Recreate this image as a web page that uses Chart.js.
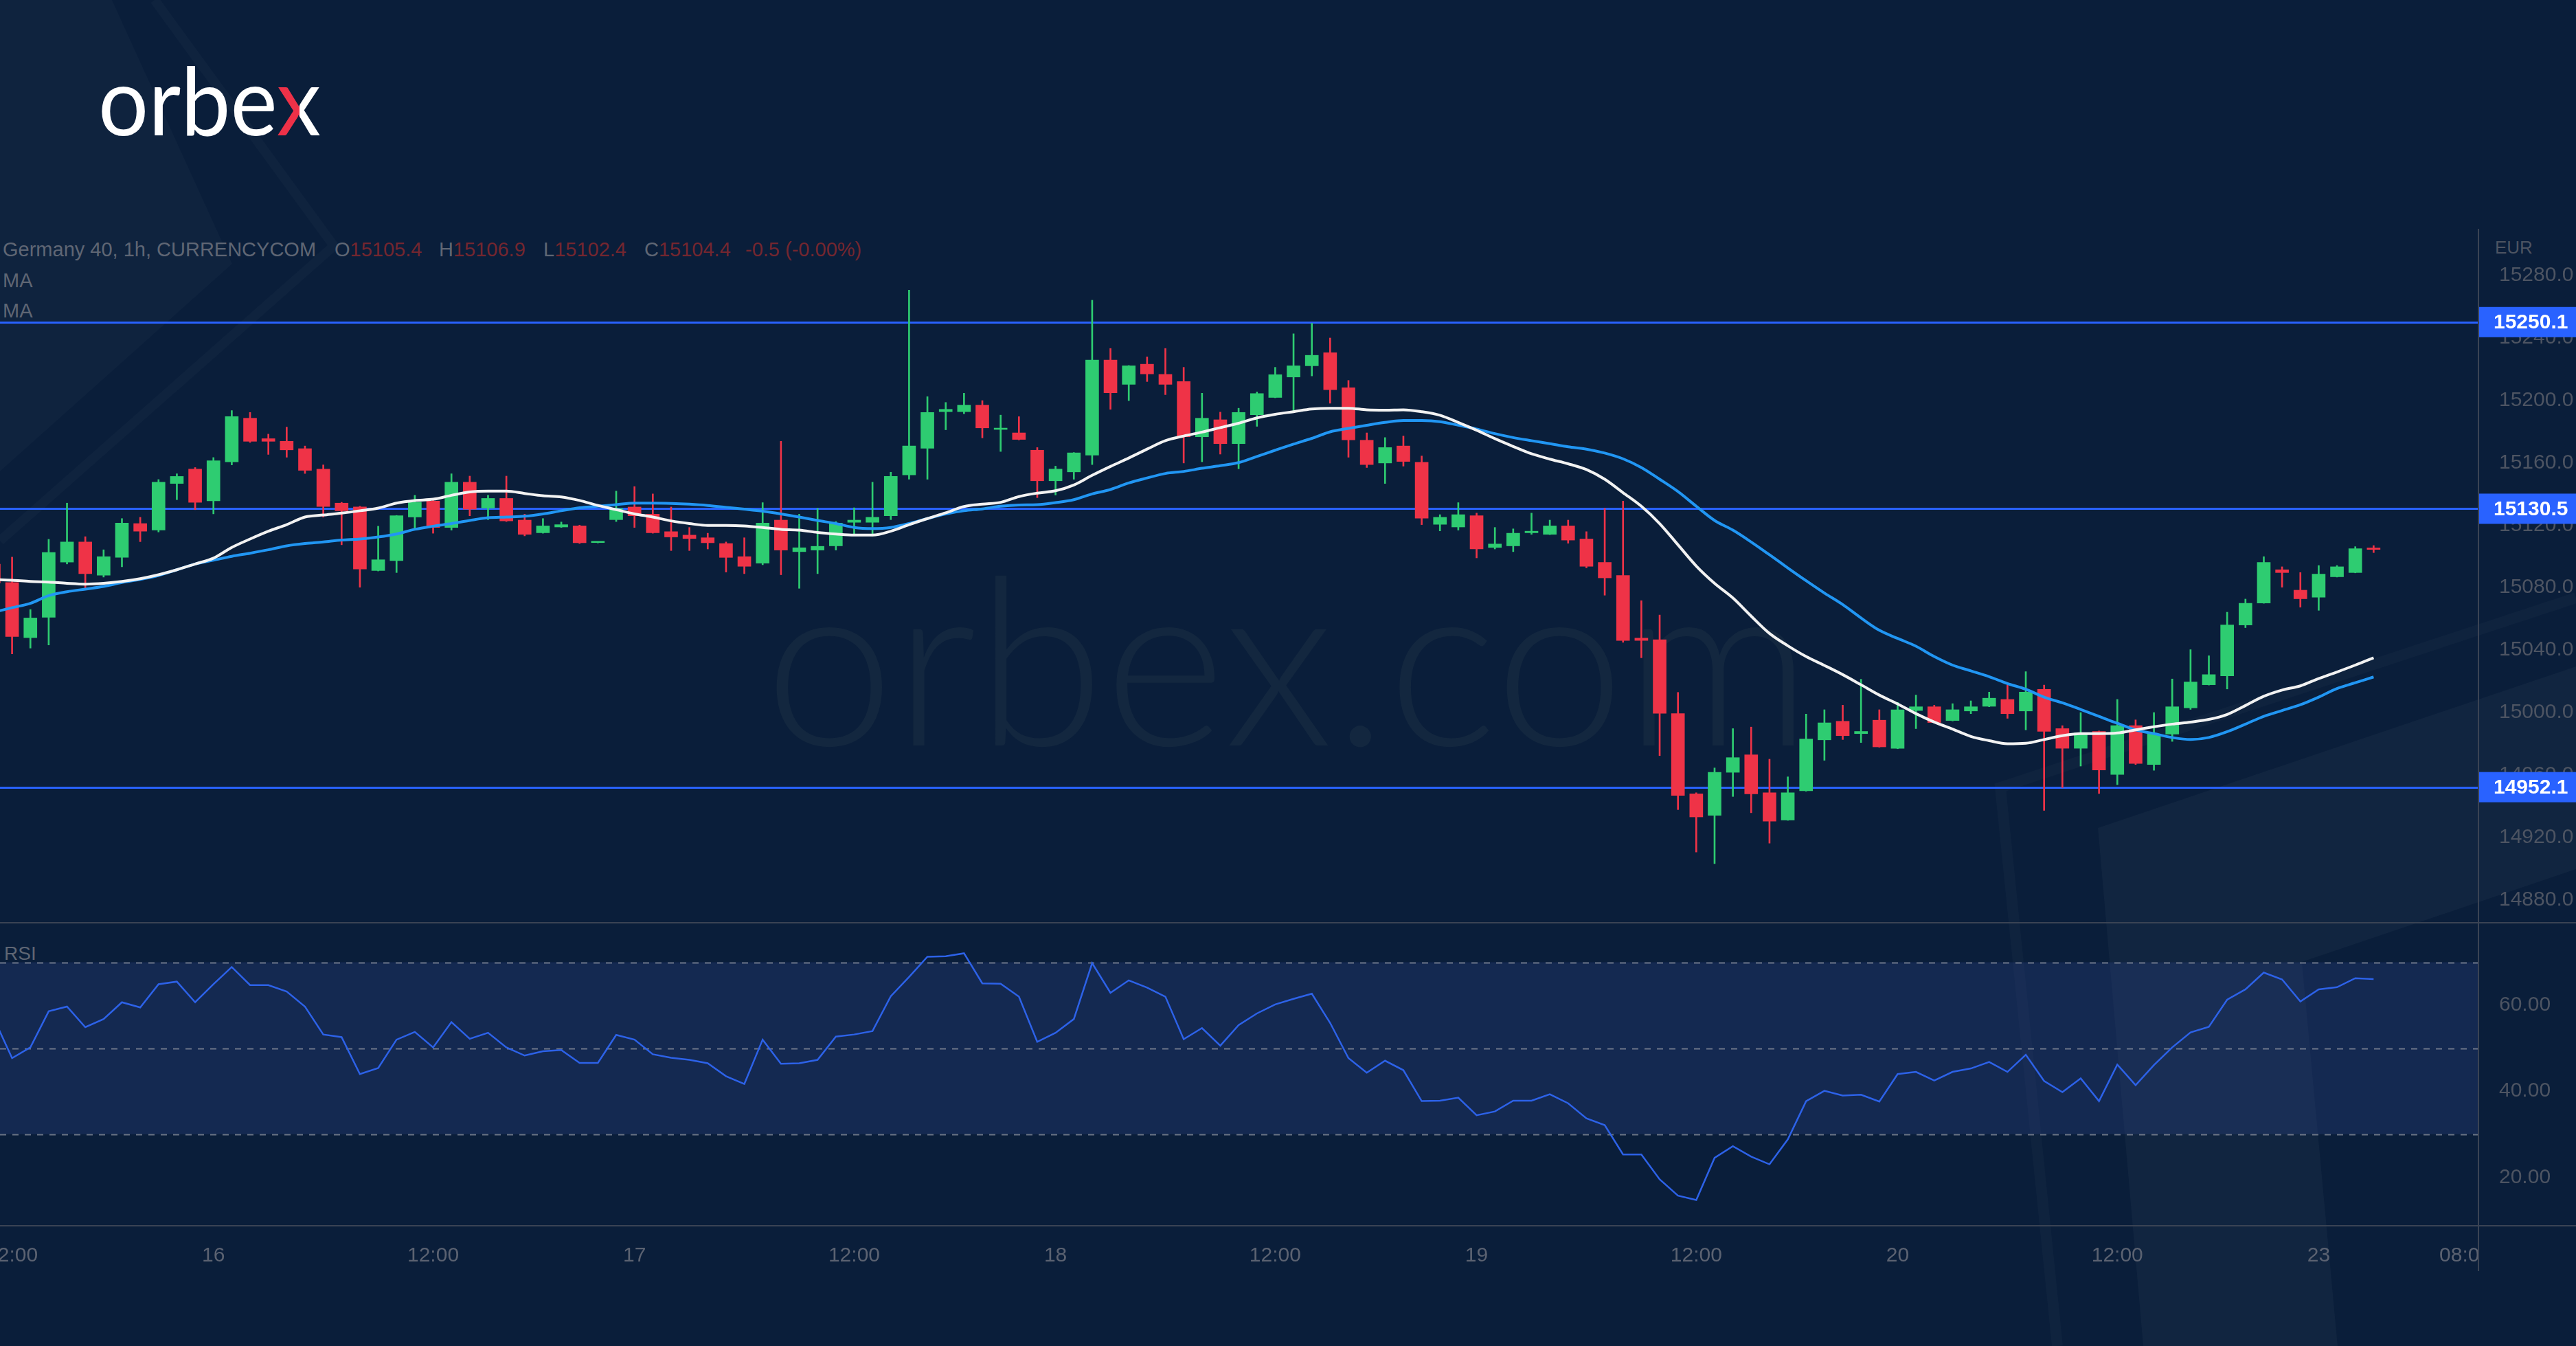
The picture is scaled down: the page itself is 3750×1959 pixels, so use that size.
<!DOCTYPE html>
<html>
<head>
<meta charset="utf-8">
<title>Germany 40, 1h</title>
<script src="https://cdn.jsdelivr.net/npm/chart.js@4.4.1/dist/chart.umd.min.js"></script>
<style>
  html, body { margin: 0; padding: 0; }
  body {
    width: 3750px; height: 1959px; overflow: hidden; position: relative;
    background: #0a1e3a;
  }
  #backdrop { position: absolute; left: 0; top: 0; }
  #chart { position: absolute; left: 0; top: 0; }
</style>
</head>
<body>

<!-- background shapes, watermark, logo and legend text -->
<svg id="backdrop" width="3750" height="1959" xmlns="http://www.w3.org/2000/svg">
  <defs>
    <linearGradient id="xSplit" gradientUnits="userSpaceOnUse" x1="405" y1="0" x2="467" y2="0">
      <stop offset="0.5" stop-color="#ee3148"/>
      <stop offset="0.5" stop-color="#ffffff"/>
    </linearGradient>
  </defs>
  <polygon points="0,0 163,0 338,384 0,686" fill="rgba(255,255,255,0.025)"/>
  <polyline points="225,0 486,358 0,787" fill="none" stroke="rgba(255,255,255,0.025)" stroke-width="14"/>
  <polygon points="3054,1205 3750,970 3750,1265 3351,1400 3403,1959 3120,1959" fill="rgba(255,255,255,0.03)"/>
  <polyline points="3750,870 2912,1146 2995,1959" fill="none" stroke="rgba(255,255,255,0.025)" stroke-width="16"/>

  <text x="1113" y="1085" font-family="Lato" font-weight="300" font-size="340"
        textLength="1524" lengthAdjust="spacingAndGlyphs" fill="#13273f">orbex.com</text>

  <text x="143" y="197" font-family="Lato" font-weight="400" font-size="138"
        textLength="324" lengthAdjust="spacingAndGlyphs" fill="#ffffff">orbe<tspan fill="url(#xSplit)">x</tspan></text>

  <g font-family="Liberation Sans" font-size="29" fill="#5f6674">
    <text id="legendLine" y="373"></text>
    <text x="4" y="418">MA</text>
    <text x="4" y="462">MA</text>
    <text x="6" y="1397" font-size="28">RSI</text>
  </g>
  <text x="3632" y="369" font-family="Liberation Sans" font-size="26" fill="#4d5462">EUR</text>
</svg>

<canvas id="chart" width="3750" height="1959"></canvas>

<script>
// Germany 40 (CURRENCYCOM), 1h candles, first bar index -1 (partly off screen)
const firstIndex = -1;

const open = [
  15095.0, 15083.2, 15047.9, 15060.9, 15096.3, 15109.2, 15087.9, 15099.3, 15121.0, 15116.8,
  15146.7, 15155.9, 15135.6, 15160.6, 15188.5, 15175.4, 15173.7, 15169.0, 15155.9, 15134.1,
  15131.6, 15090.9, 15097.3, 15125.2, 15135.4, 15118.5, 15147.5, 15130.9, 15137.1, 15123.2,
  15115.1, 15118.8, 15119.5, 15108.8, 15123.5, 15131.6, 15127.0, 15115.8, 15113.6, 15111.9,
  15108.2, 15099.8, 15095.6, 15123.2, 15103.0, 15104.0, 15106.7, 15121.8, 15121.8, 15126.0,
  15152.2, 15169.2, 15192.7, 15192.7, 15196.9, 15181.3, 15179.1, 15168.0, 15148.4, 15154.1,
  15164.8, 15225.8, 15210.2, 15223.1, 15216.6, 15212.0, 15176.6, 15187.5, 15172.2, 15190.7,
  15201.8, 15214.9, 15222.1, 15230.5, 15208.0, 15174.4, 15159.8, 15170.7, 15160.3, 15120.5,
  15118.8, 15126.0, 15105.7, 15106.7, 15115.1, 15114.1, 15119.5, 15111.1, 15096.1, 15087.7,
  15047.6, 15046.6, 14999.2, 14947.8, 14934.0, 14961.6, 14972.8, 14948.5, 14931.0, 14949.8,
  14982.4, 14994.3, 14986.4, 14995.0, 14977.0, 15001.2, 15003.6, 14994.8, 15000.9, 15003.9,
  15008.3, 15000.9, 15014.8, 14989.6, 14977.0, 14987.8, 14960.2, 14991.5, 14966.6, 14986.1,
  15002.9, 15017.7, 15023.4, 15056.0, 15070.1, 15091.4, 15078.3, 15073.8, 15086.9, 15089.6,
  15105.4
];

const high = [
  15099.0, 15099.5, 15065.9, 15110.9, 15134.1, 15112.6, 15104.2, 15124.2, 15125.0, 15149.2,
  15152.9, 15156.9, 15163.3, 15193.4, 15192.2, 15178.3, 15182.8, 15170.7, 15158.6, 15134.6,
  15132.1, 15119.3, 15126.2, 15139.1, 15136.3, 15152.9, 15151.4, 15139.1, 15151.4, 15127.0,
  15124.2, 15122.0, 15120.0, 15109.2, 15141.8, 15144.7, 15140.0, 15131.6, 15118.5, 15114.8,
  15109.2, 15111.9, 15134.4, 15173.7, 15127.0, 15130.7, 15122.3, 15131.1, 15147.5, 15153.9,
  15270.5, 15202.3, 15198.6, 15204.5, 15199.8, 15190.5, 15189.5, 15169.7, 15157.8, 15166.5,
  15264.1, 15233.2, 15222.3, 15227.8, 15233.2, 15221.1, 15204.5, 15192.4, 15194.9, 15205.3,
  15221.1, 15242.6, 15249.3, 15239.9, 15212.7, 15179.1, 15176.1, 15177.1, 15164.3, 15126.7,
  15134.4, 15127.7, 15118.5, 15117.6, 15127.7, 15123.2, 15123.2, 15115.8, 15130.7, 15135.4,
  15071.6, 15062.4, 15012.8, 14948.5, 14964.4, 14989.6, 14990.6, 14970.0, 14958.7, 14998.9,
  15001.7, 15004.6, 15021.2, 15001.7, 15006.4, 15011.1, 15004.6, 15005.6, 15007.4, 15013.0,
  15017.5, 15026.1, 15017.5, 14991.5, 14999.9, 14988.1, 15008.3, 14995.2, 14999.9, 15021.4,
  15040.2, 15036.3, 15064.2, 15072.6, 15099.8, 15093.3, 15089.6, 15094.1, 15094.1, 15106.2,
  15106.9
];

const low = [
  15078.0, 15037.5, 15041.2, 15043.2, 15095.1, 15079.0, 15086.7, 15093.3, 15109.4, 15115.6,
  15136.3, 15129.9, 15127.2, 15158.6, 15173.0, 15165.3, 15163.5, 15153.1, 15125.2, 15107.4,
  15080.2, 15090.6, 15089.6, 15117.8, 15114.8, 15116.8, 15126.0, 15123.5, 15122.3, 15113.1,
  15114.8, 15118.5, 15108.2, 15108.6, 15122.3, 15118.5, 15114.8, 15103.7, 15103.7, 15104.7,
  15089.9, 15088.9, 15094.6, 15088.2, 15079.5, 15088.9, 15104.0, 15113.9, 15113.1, 15123.5,
  15149.4, 15149.4, 15181.1, 15191.4, 15175.9, 15167.2, 15174.6, 15137.6, 15139.3, 15149.4,
  15158.8, 15194.2, 15199.8, 15212.0, 15203.6, 15159.8, 15160.6, 15165.5, 15156.1, 15183.3,
  15201.6, 15192.2, 15215.6, 15198.1, 15163.5, 15156.9, 15146.7, 15157.8, 15120.3, 15116.3,
  15116.8, 15099.0, 15104.7, 15103.0, 15114.1, 15113.9, 15108.4, 15092.6, 15075.1, 15044.9,
  15035.0, 14972.3, 14937.7, 14910.5, 14903.1, 14946.1, 14935.7, 14916.2, 14930.8, 14949.5,
  14969.3, 14982.6, 14980.7, 14977.7, 14976.7, 14989.6, 14993.3, 14994.5, 14999.2, 15003.6,
  14996.2, 14988.8, 14937.2, 14951.8, 14965.6, 14948.0, 14953.7, 14966.6, 14962.9, 14981.4,
  15001.9, 15017.5, 15015.0, 15054.3, 15069.9, 15080.2, 15067.4, 15065.4, 15086.7, 15089.4,
  15102.4
];

const close = [
  15083.0, 15048.6, 15060.5, 15102.5, 15109.2, 15088.9, 15099.8, 15121.3, 15116.1, 15147.5,
  15151.2, 15134.6, 15161.3, 15189.5, 15173.7, 15173.7, 15168.2, 15155.1, 15131.9, 15129.2,
  15091.9, 15097.8, 15126.0, 15134.6, 15118.5, 15147.5, 15130.2, 15137.1, 15122.7, 15114.1,
  15119.5, 15120.3, 15108.7, 15109.0, 15130.7, 15126.0, 15115.1, 15112.4, 15111.4, 15108.7,
  15099.3, 15093.6, 15121.3, 15104.0, 15105.5, 15106.4, 15121.3, 15123.2, 15125.0, 15151.2,
  15170.7, 15192.2, 15194.2, 15196.9, 15182.3, 15182.0, 15174.9, 15148.4, 15155.9, 15166.3,
  15225.8, 15204.8, 15222.1, 15216.9, 15210.2, 15176.6, 15188.5, 15172.2, 15192.2, 15204.3,
  15216.4, 15222.1, 15228.8, 15206.8, 15174.6, 15158.8, 15169.7, 15160.8, 15124.5, 15125.0,
  15126.7, 15104.7, 15107.9, 15114.8, 15116.1, 15119.5, 15110.4, 15093.6, 15086.2, 15046.1,
  15046.1, 14999.4, 14946.8, 14933.0, 14961.6, 14971.0, 14947.8, 14930.3, 14948.5, 14982.9,
  14993.3, 14985.1, 14987.8, 14977.9, 15001.7, 15003.6, 14993.5, 15001.7, 15003.6, 15009.1,
  14999.2, 15013.0, 14987.8, 14977.0, 14986.8, 14963.1, 14991.5, 14967.3, 14986.1, 15003.6,
  15019.5, 15024.2, 15056.0, 15069.9, 15096.1, 15089.6, 15072.8, 15088.6, 15093.3, 15104.9,
  15104.4
];

// moving averages as drawn on the source chart
const maFast = [
  15085.2, 15084.7, 15083.9, 15083.5, 15082.7, 15082.2, 15082.7, 15083.9, 15085.7, 15088.2,
  15091.4, 15095.1, 15098.8, 15105.7, 15111.1, 15116.1, 15120.3, 15125.2, 15126.5, 15127.7,
  15129.2, 15130.9, 15134.1, 15135.8, 15136.6, 15139.1, 15141.3, 15141.8, 15141.8, 15140.3,
  15138.8, 15138.1, 15135.8, 15132.6, 15129.9, 15127.2, 15125.2, 15122.7, 15121.0, 15119.8,
  15119.8, 15119.5, 15118.5, 15117.3, 15116.8, 15115.3, 15114.3, 15113.6, 15113.6, 15116.1,
  15120.3, 15124.2, 15127.9, 15131.9, 15133.4, 15134.6, 15138.3, 15140.5, 15142.0, 15145.7,
  15151.9, 15157.6, 15163.0, 15168.7, 15174.1, 15177.1, 15179.6, 15182.5, 15185.3, 15188.7,
  15191.0, 15192.7, 15194.4, 15194.9, 15194.9, 15193.9, 15193.7, 15193.9, 15192.7, 15190.4,
  15185.8, 15180.8, 15175.4, 15170.4, 15165.7, 15162.3, 15159.3, 15155.6, 15149.4, 15140.8,
  15132.1, 15121.0, 15107.4, 15093.8, 15082.7, 15073.3, 15061.7, 15050.6, 15042.7, 15035.8,
  15030.1, 15024.2, 15017.7, 15011.1, 15005.4, 14999.2, 14993.8, 14989.3, 14984.6, 14981.9,
  14979.9, 14980.2, 14982.6, 14985.1, 14986.4, 14986.4, 14986.8, 14988.8, 14990.8, 14992.5,
  14993.8, 14995.5, 14998.7, 15004.4, 15010.3, 15014.3, 15017.0, 15021.7, 15025.9, 15030.3,
  15035.0
];

const maSlow = [
  15064.2, 15067.1, 15069.9, 15074.8, 15077.3, 15079.0, 15080.7, 15083.2, 15085.2, 15087.7,
  15091.4, 15095.1, 15097.5, 15100.0, 15102.0, 15104.2, 15106.7, 15108.2, 15109.2, 15110.4,
  15111.1, 15112.4, 15114.3, 15117.3, 15119.3, 15121.0, 15123.0, 15124.7, 15125.2, 15125.7,
  15127.2, 15129.2, 15131.1, 15132.1, 15133.1, 15134.1, 15134.1, 15133.9, 15133.4, 15132.6,
  15131.4, 15130.2, 15128.9, 15127.2, 15125.2, 15123.0, 15121.0, 15118.5, 15117.8, 15118.5,
  15121.0, 15124.2, 15127.2, 15129.2, 15130.4, 15132.1, 15132.9, 15133.1, 15134.4, 15136.3,
  15140.0, 15142.8, 15147.0, 15150.2, 15153.1, 15154.4, 15156.4, 15158.1, 15160.1, 15164.0,
  15168.0, 15171.9, 15175.6, 15179.8, 15182.0, 15184.0, 15185.8, 15187.0, 15187.0, 15186.3,
  15184.0, 15181.6, 15178.6, 15176.1, 15174.1, 15172.2, 15170.2, 15168.7, 15166.2, 15162.5,
  15156.9, 15149.4, 15141.5, 15132.1, 15123.0, 15116.8, 15109.2, 15101.0, 15092.6, 15084.4,
  15076.5, 15069.1, 15060.5, 15052.6, 15047.4, 15042.4, 15035.8, 15030.3, 15026.6, 15022.9,
  15018.5, 15014.8, 15009.8, 15006.1, 15001.9, 14997.5, 14993.0, 14988.8, 14986.4, 14983.9,
  14982.6, 14983.9, 14987.6, 14992.5, 14997.5, 15001.2, 15004.9, 15009.8, 15015.3, 15019.0,
  15022.7
];

const rsi = [
  57.0, 47.7, 50.2, 58.6, 59.7, 54.9, 56.8, 60.7, 59.5, 64.9,
  65.5, 60.7, 64.9, 68.9, 64.7, 64.7, 63.2, 59.7, 53.2, 52.6,
  44.0, 45.4, 52.0, 53.8, 50.2, 56.1, 52.2, 53.6, 50.2, 48.3,
  49.3, 49.6, 46.6, 46.6, 53.1, 52.0, 48.6, 47.8, 47.3, 46.5,
  43.5, 41.7, 52.0, 46.4, 46.5, 47.3, 52.7, 53.2, 54.0, 62.1,
  66.6, 71.3, 71.4, 72.1, 65.1, 65.0, 62.0, 51.5, 53.6, 56.8,
  69.8, 62.9, 65.8, 64.1, 62.0, 52.1, 54.7, 50.6, 55.4, 58.1,
  60.2, 61.5, 62.7, 55.9, 47.7, 44.3, 47.1, 44.9, 37.7, 37.8,
  38.5, 34.4, 35.3, 37.8, 37.8, 39.3, 37.2, 33.7, 32.1, 25.3,
  25.3, 19.5, 15.7, 14.7, 24.5, 27.2, 24.8, 23.0, 28.8, 37.7,
  40.1, 39.0, 39.2, 37.6, 44.0, 44.5, 42.5, 44.5, 45.3, 46.8,
  44.5, 48.5, 42.4, 39.8, 43.0, 37.7, 46.2, 41.4, 46.1, 50.2,
  53.7, 55.0, 61.3, 63.7, 67.6, 66.0, 60.9, 63.7, 64.2, 66.3,
  66.1
];

// horizontal levels and RSI guides
const levels = [15250.1, 15130.5, 14952.1];
const rsiGuides = [70, 50, 30];

// time axis: bar index -> label
const tickIndex = [0, 11, 23, 34, 46, 57, 69, 80, 92, 103, 115, 126, 134];
const tickLabels = ['12:00', '16', '12:00', '17', '12:00', '18', '12:00', '19', '12:00', '20', '12:00', '23', '08:00'];

const upColor = '#2ecc71';
const downColor = '#ef3347';
const bgColor = '#0a1e3a';
const axisText = '#4d5462';

// legend line from the last bar
(function fillLegend() {
    const n = close.length - 1;
    const diff = close[n] - close[n - 1];
    const pct = diff / close[n - 1] * 100;
    const red = '#74262f';
    const parts = [
        ['Germany 40, 1h, CURRENCYCOM', '#5f6674', 4],
        ['O', '#5f6674', 487], [open[n].toFixed(1), red, null],
        ['H', '#5f6674', 639], [high[n].toFixed(1), red, null],
        ['L', '#5f6674', 791], [low[n].toFixed(1), red, null],
        ['C', '#5f6674', 938], [close[n].toFixed(1), red, null],
        [diff.toFixed(1) + ' (' + pct.toFixed(2) + '%)', red, 1085]
    ];
    const el = document.getElementById('legendLine');
    parts.forEach(([txt, color, x]) => {
        const t = document.createElementNS('http://www.w3.org/2000/svg', 'tspan');
        if (x !== null) t.setAttribute('x', x);
        t.setAttribute('fill', color);
        t.textContent = txt;
        el.appendChild(t);
    });
})();

const xs = close.map((_, k) => firstIndex + k);
const candleColors = close.map((c, k) => c >= open[k] ? upColor : downColor);

const bodies = xs.map((x, k) => ({ x: x, y: [open[k], close[k]] }));
const wicks = xs.map((x, k) => ({ x: x, y: [low[k], high[k]] }));
const fastLine = xs.map((x, k) => ({ x: x, y: maFast[k] }));
const slowLine = xs.map((x, k) => ({ x: x, y: maSlow[k] }));
const rsiLine = xs.map((x, k) => ({ x: x, y: rsi[k] }));

// draws guides, level lines, axis separators and price tags
const paneDecor = {
    id: 'paneDecor',
    beforeDatasetsDraw(chart) {
        const { ctx, chartArea, scales } = chart;
        const py = scales.y, pr = scales.rsi;
        ctx.save();

        // RSI band 30..70
        const top = pr.getPixelForValue(rsiGuides[0]);
        const bottom = pr.getPixelForValue(rsiGuides[2]);
        ctx.fillStyle = 'rgba(42, 64, 130, 0.32)';
        ctx.fillRect(chartArea.left, top, chartArea.right - chartArea.left, bottom - top);

        ctx.setLineDash([9, 9]);
        ctx.lineWidth = 2;
        ctx.strokeStyle = 'rgba(140, 146, 158, 0.75)';
        rsiGuides.forEach(v => {
            const y = Math.round(pr.getPixelForValue(v)) + 0.5;
            ctx.beginPath();
            ctx.moveTo(chartArea.left, y);
            ctx.lineTo(chartArea.right, y);
            ctx.stroke();
        });

        ctx.setLineDash([]);
        ctx.lineWidth = 3;
        ctx.strokeStyle = '#2962ff';
        levels.forEach(v => {
            const y = Math.round(py.getPixelForValue(v)) + 0.5;
            ctx.beginPath();
            ctx.moveTo(chartArea.left, y);
            ctx.lineTo(chartArea.right, y);
            ctx.stroke();
        });
        ctx.restore();
    },
    afterDraw(chart) {
        const { ctx, chartArea, scales, width } = chart;
        const py = scales.y;
        ctx.save();

        // hide time labels that run under the price scale
        ctx.fillStyle = bgColor;
        ctx.fillRect(chartArea.right + 1, chartArea.bottom + 2, width - chartArea.right, 120);

        ctx.strokeStyle = '#3a4354';
        ctx.lineWidth = 2;
        ctx.beginPath();
        ctx.moveTo(0, py.bottom);
        ctx.lineTo(width, py.bottom);
        ctx.moveTo(0, chartArea.bottom);
        ctx.lineTo(width, chartArea.bottom);
        ctx.moveTo(chartArea.right + 1, chartArea.top - 2);
        ctx.lineTo(chartArea.right + 1, chartArea.bottom + 66);
        ctx.stroke();

        // price tags for the levels
        ctx.font = 'bold 30px "Liberation Sans"';
        ctx.textBaseline = 'middle';
        levels.forEach(v => {
            const y = py.getPixelForValue(v);
            ctx.fillStyle = '#2962ff';
            ctx.fillRect(chartArea.right + 2, y - 22, width - chartArea.right, 44);
            ctx.fillStyle = '#ffffff';
            ctx.fillText(v.toFixed(1), chartArea.right + 23, y + 1);
        });
        ctx.restore();
    }
};

Chart.defaults.font.family = '"Liberation Sans", Arial, sans-serif';

new Chart(document.getElementById('chart'), {
    type: 'bar',
    data: {
        datasets: [
            {
                type: 'line', label: 'MA fast', data: fastLine, yAxisID: 'y',
                borderColor: '#f2f2f2', borderWidth: 4, pointRadius: 0,
                tension: 0.3, cubicInterpolationMode: 'monotone', order: 0
            },
            {
                type: 'line', label: 'MA slow', data: slowLine, yAxisID: 'y',
                borderColor: '#2196f3', borderWidth: 4, pointRadius: 0,
                tension: 0.3, cubicInterpolationMode: 'monotone', order: 1
            },
            {
                type: 'line', label: 'RSI', data: rsiLine, yAxisID: 'rsi',
                borderColor: '#2d62e8', borderWidth: 2.5, pointRadius: 0,
                tension: 0, order: 0
            },
            {
                label: 'Body', data: bodies, yAxisID: 'y',
                backgroundColor: candleColors, borderWidth: 0,
                barThickness: 19, minBarLength: 2, grouped: false, order: 2
            },
            {
                label: 'Wick', data: wicks, yAxisID: 'y',
                backgroundColor: candleColors, borderWidth: 0,
                barThickness: 2, grouped: false, order: 3
            }
        ]
    },
    options: {
        responsive: false,
        animation: false,
        devicePixelRatio: 1,
        layout: { padding: { top: 335, left: 0, right: 0, bottom: 0 } },
        plugins: {
            legend: { display: false },
            tooltip: { enabled: false }
        },
        scales: {
            x: {
                type: 'linear',
                offset: false,
                min: -0.66,
                max: 134.69,
                grid: { display: false, offset: false },
                border: { display: false },
                afterBuildTicks: scale => {
                    scale.ticks = tickIndex.map(v => ({ value: v }));
                },
                afterFit: scale => {
                    // labels may run off the edges, as in the source
                    scale.height = 175;
                    scale.paddingLeft = 0;
                    scale.paddingRight = 0;
                },
                ticks: {
                    color: '#5b6271',
                    font: { size: 30 },
                    padding: 18,
                    maxRotation: 0,
                    autoSkip: false,
                    callback: value => {
                        const k = tickIndex.indexOf(value);
                        return k >= 0 ? tickLabels[k] : '';
                    }
                }
            },
            y: {
                type: 'linear',
                position: 'right',
                stack: 'panes',
                stackWeight: 1008,
                min: 14865.2,
                max: 15309.0,
                grid: { display: false },
                border: { display: false },
                afterFit: scale => { scale.width = 143; },
                ticks: {
                    stepSize: 40,
                    includeBounds: false,
                    color: axisText,
                    font: { size: 30 },
                    padding: 23,
                    callback: value => value.toFixed(1)
                }
            },
            rsi: {
                type: 'linear',
                position: 'right',
                stack: 'panes',
                stackWeight: 441,
                min: 8.7,
                max: 79.2,
                grid: { display: false },
                border: { display: false },
                afterFit: scale => { scale.width = 143; },
                ticks: {
                    stepSize: 20,
                    includeBounds: false,
                    color: axisText,
                    font: { size: 30 },
                    padding: 23,
                    callback: value => value.toFixed(2)
                }
            }
        }
    },
    plugins: [paneDecor]
});
</script>
</body>
</html>
